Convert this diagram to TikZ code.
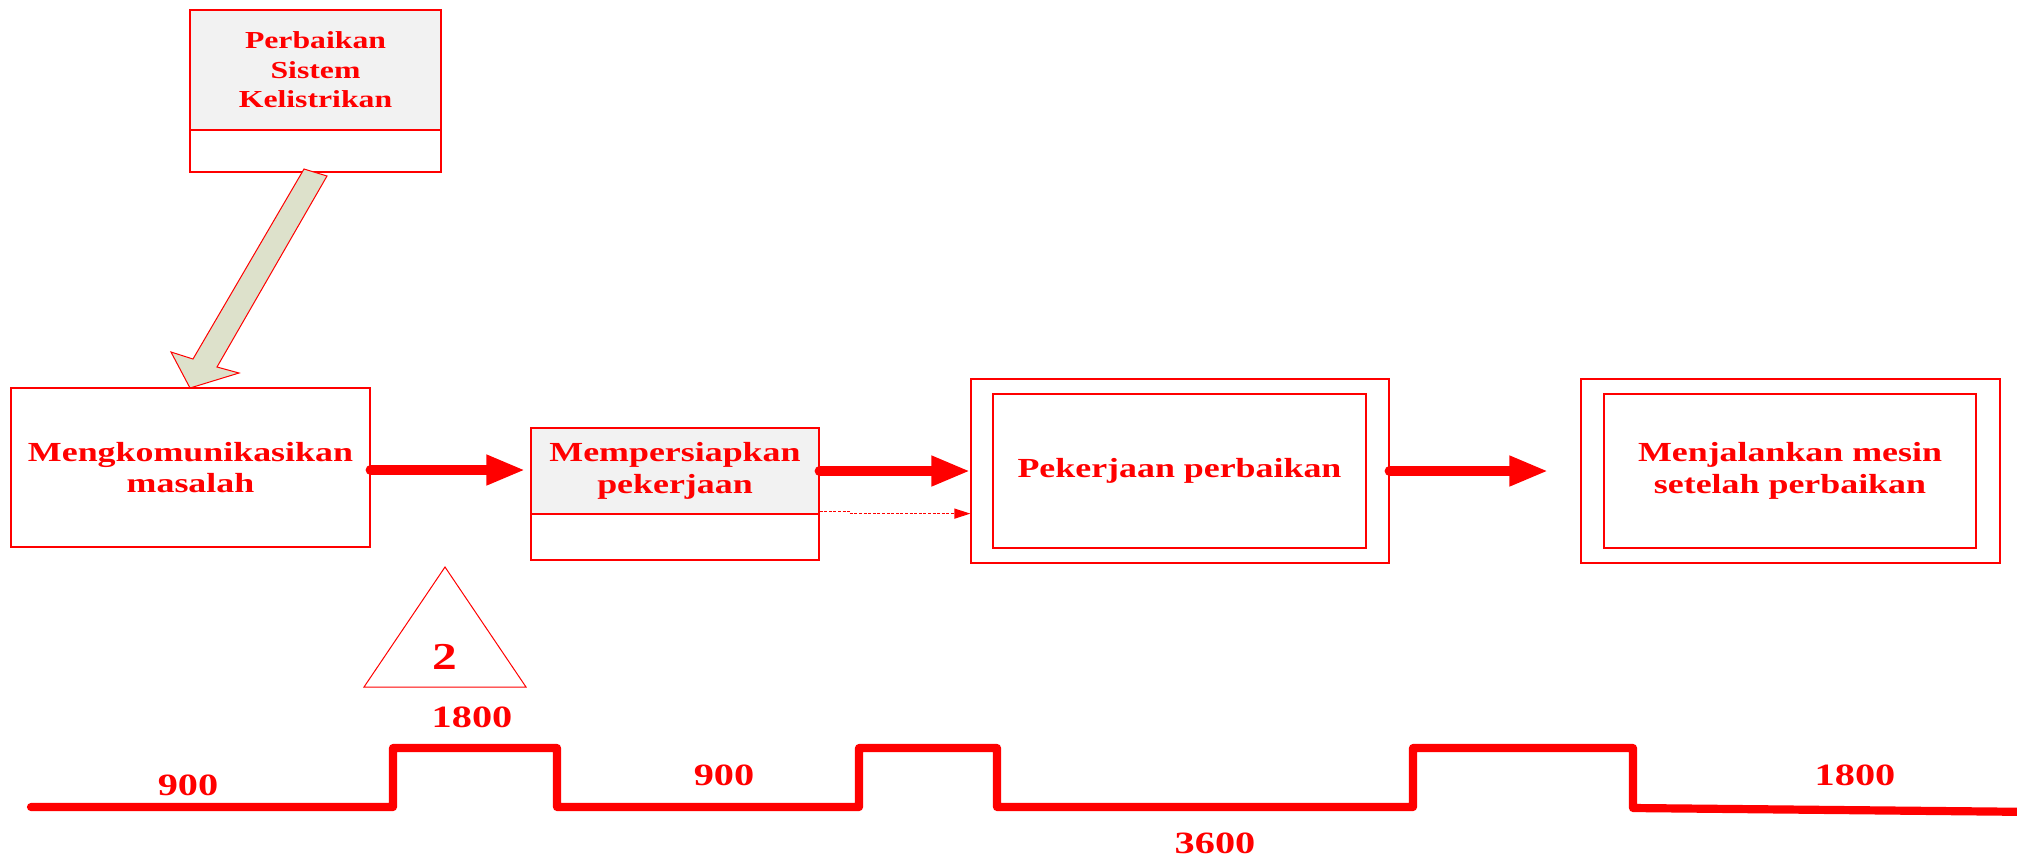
\documentclass[tikz,border=0pt]{standalone}
\usepackage{fontspec}
\setmainfont{Liberation Serif}
\newfontfamily\wideserif[FakeStretch=1.3]{Liberation Serif}
\usetikzlibrary{arrows.meta}
\definecolor{hdrgray}{HTML}{F2F2F2}
\definecolor{olivefill}{HTML}{DDE1CB}
\begin{document}
\begin{tikzpicture}[x=0.5pt,y=-0.5pt,
  every node/.style={text=red},
  frame/.style={draw=red, line width=0.6pt, inner sep=0pt},
  boxtext/.style={align=center, font=\wideserif\bfseries\fontsize{13.8}{15.8}\selectfont},
  smalltext/.style={align=center, font=\wideserif\bfseries\fontsize{12.2}{14.75}\selectfont},
  numtext/.style={inner sep=0pt, font=\wideserif\bfseries\fontsize{15.5}{18}\selectfont},
  flow/.style={draw=red, line width=5pt, line cap=round, -{Triangle[length=19.5pt,width=14pt]}},
  dashflow/.style={draw=red, line width=0.6pt, dash pattern=on 1.5pt off 0.8pt, -{Triangle[length=8pt,width=5pt]}},
]
\useasboundingbox (0,0) rectangle (2017,859);

% top box with grey header
\node[frame, minimum width=125.5pt, minimum height=81pt] (sys) at (315.5,91) {};
\node[frame, fill=hdrgray, minimum width=125.5pt, minimum height=60pt, smalltext] (syshead) at (315.5,70) {Perbaikan\\Sistem\\Kelistrikan};

% block arrow down to the first step
\filldraw[fill=olivefill, draw=red, line width=0.5pt]
  (304,169) -- (193,359) -- (171,352) -- (190,388) -- (239,373) -- (217,367) -- (327,176) -- cycle;

% process boxes
\node[frame, boxtext, minimum width=179.5pt, minimum height=79.5pt] (comm) at (190.5,467.5) {Mengkomunikasikan\\masalah};

\node[frame, minimum width=144pt, minimum height=66pt] (prep) at (675,494) {};
\node[frame, fill=hdrgray, boxtext, minimum width=144pt, minimum height=43pt] (prephead) at (675,471) {Mempersiapkan\\pekerjaan};

\node[frame, minimum width=209pt, minimum height=92pt] (repair) at (1180,471) {};
\node[frame, boxtext, minimum width=186.5pt, minimum height=77pt] (repairin) at (1179.5,471) {Pekerjaan perbaikan};

\node[frame, minimum width=209.5pt, minimum height=92pt] (run) at (1790.5,471) {};
\node[frame, boxtext, minimum width=186pt, minimum height=77pt] (runin) at (1790,471) {Menjalankan mesin\\setelah perbaikan};

% connectors
\draw[flow, shorten >=2.5pt] ([yshift=-1.25pt]comm.east) -- ([yshift=-1.25pt]comm.east -| prephead.west);
\draw[flow] (prephead.east) -- (prephead.east -| repair.west);
\draw[dashflow] ([yshift=1.5pt]prephead.south east) -- ++(31,0) -- ++(0,2) -- ([yshift=0.5pt]prephead.south east -| repair.west);
\draw[flow, shorten >=16pt] (repair.east) -- (repair.east -| run.west);

% triangle marker
\draw[red, line width=0.5pt] (445,567) -- (364,687) -- (526,687) -- cycle;
\node[inner sep=0pt, font=\wideserif\bfseries\fontsize{19}{22}\selectfont] (two) at (445,657) {2};

% time line
\draw[red, line width=4.1pt, line cap=round, line join=round]
  (31,807) -- (393,807) -- (393,748) -- (557,748) -- (557,807) -- (859,807) -- (859,748)
  -- (997,748) -- (997,807) -- (1413,807) -- (1413,748) -- (1633,748) -- (1633,808) -- (2040,812);

\node[numtext] (t1) at (188,785) {900};
\node[numtext] (t2) at (472,717) {1800};
\node[numtext] (t3) at (724,775) {900};
\node[numtext] (t4) at (1215,843) {3600};
\node[numtext] (t5) at (1855,775) {1800};
\end{tikzpicture}
\end{document}
